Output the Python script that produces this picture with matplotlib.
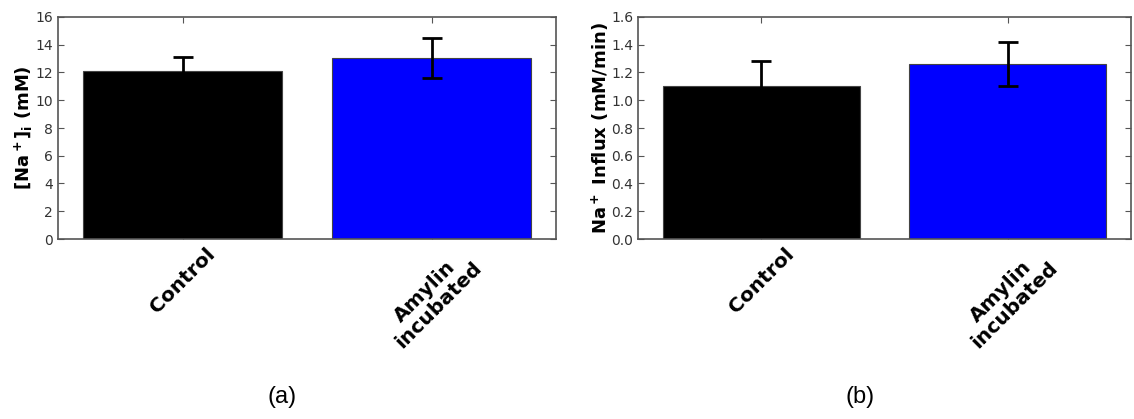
import matplotlib
matplotlib.use("Agg")
import matplotlib.pyplot as plt
import numpy as np

groups = ["Control", "Amylin\nincubated"]
bar_colors = ["black", "blue"]

na_conc = [12.1, 13.05]
na_conc_err = [1.05, 1.45]

na_influx = [1.10, 1.26]
na_influx_err = [0.18, 0.16]

plt.rcParams["mathtext.default"] = "bf"
plt.rcParams["xtick.direction"] = "in"
plt.rcParams["ytick.direction"] = "in"

fig = plt.figure(figsize=(11.34, 4.19), dpi=100)
ax1 = fig.add_axes([58 / 1134, 1 - 239 / 419, 498 / 1134, 222 / 419])
ax2 = fig.add_axes([638 / 1134, 1 - 239 / 419, 493 / 1134, 222 / 419])


def draw_panel(ax, vals, errs, ylim, yticks, yfmt, ylabel):
    x = np.arange(len(groups))
    ax.bar(x, vals, width=0.8, color=bar_colors, edgecolor="#444444",
           linewidth=0.8, zorder=2)
    ax.errorbar(x, vals, yerr=errs, fmt="none", ecolor="black",
                elinewidth=2, capsize=7, capthick=2, zorder=3)
    ax.set_xlim(-0.5, 1.5)
    ax.set_ylim(*ylim)
    ax.set_yticks(yticks)
    ax.set_yticklabels([yfmt.format(t) for t in yticks], fontsize=10,
                       color="#333333")
    ax.set_xticks(x)
    ax.set_xticklabels(groups, rotation=45, ha="center", ma="center",
                       fontsize=14.5, fontweight="bold", linespacing=1.0)
    ax.tick_params(top=True, right=True, length=4, color="#555555")
    ax.tick_params(axis="x", pad=4)
    for s in ax.spines.values():
        s.set_color("#555555")
        s.set_linewidth(1.2)
    ax.set_ylabel(ylabel, fontsize=13, fontweight="bold", labelpad=0)


draw_panel(ax1, na_conc, na_conc_err, (0, 16), np.arange(0, 17, 2),
           "{:.0f}", "[Na$^+$]$_i$ (mM)")
draw_panel(ax2, na_influx, na_influx_err, (0, 1.6),
           np.round(np.arange(0, 1.61, 0.2), 1), "{:.1f}",
           "Na$^+$ Influx (mM/min)")

fig.text(282 / 1134, 1 - 397 / 419, "(a)", fontsize=17, ha="center",
         va="center", family="Liberation Sans")
fig.text(860 / 1134, 1 - 397 / 419, "(b)", fontsize=17, ha="center",
         va="center", family="Liberation Sans")

fig.savefig("out.png", dpi=100)
